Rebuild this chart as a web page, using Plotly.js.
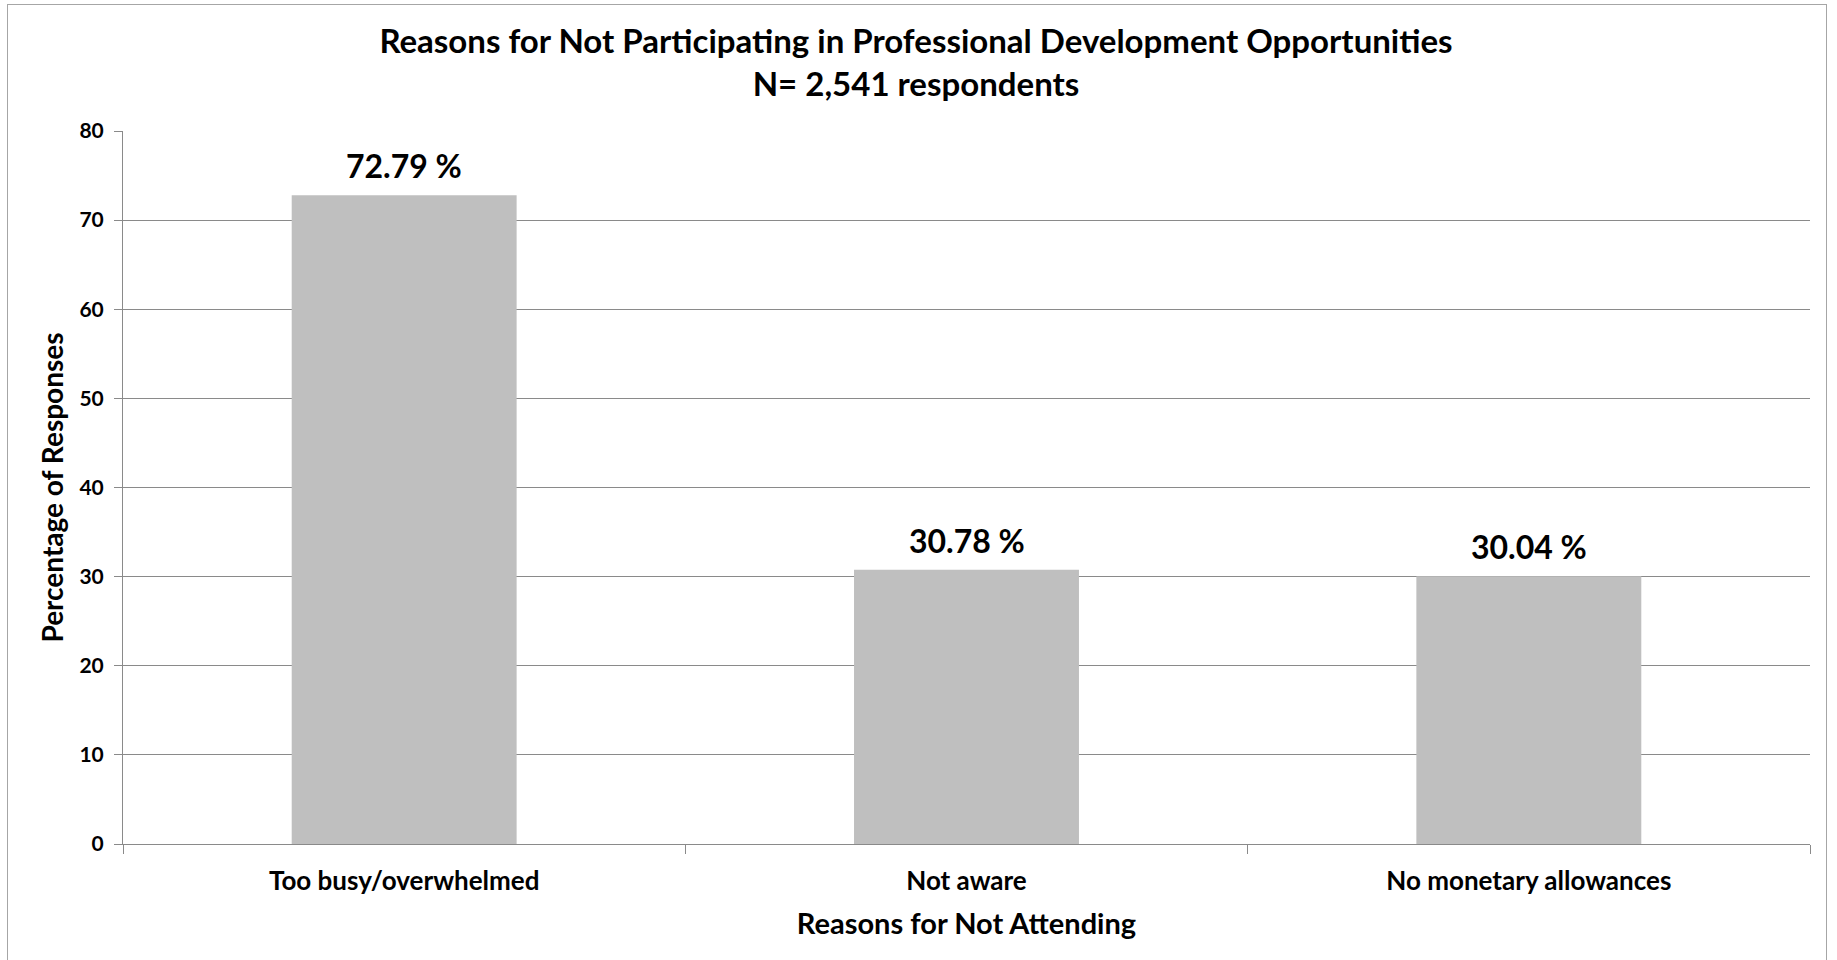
<!DOCTYPE html>
<html>
<head>
<meta charset="utf-8">
<script src="https://cdn.plot.ly/plotly-3.0.1.min.js"></script>
<style>
  html, body { margin: 0; padding: 0; background: #ffffff; }
  #chart { position: absolute; left: 0; top: 0; width: 1837px; height: 960px; }
  #frame {
    position: absolute; left: 7px; top: 4px; width: 1818px; height: 1000px;
    border: 1.5px solid #a6a6a6; border-bottom: none; pointer-events: none;
  }
</style>
</head>
<body>
<div id="chart"></div>
<div id="frame"></div>
<script>
// Survey results: reasons for not attending professional development
const reasons = ["Too busy/overwhelmed", "Not aware", "No monetary allowances"];
const percentages = [72.79, 30.78, 30.04];
const yTicks = [0, 10, 20, 30, 40, 50, 60, 70, 80];

const FONT = "Lato, 'Open Sans', 'DejaVu Sans', sans-serif";
const GRID = "#8a8a8a";

const trace = {
  type: "bar",
  x: reasons,
  y: percentages,
  marker: { color: "#bfbfbf", line: { width: 0 } },
  hoverinfo: "skip"
};

// value labels sit just above each bar
const valueLabels = reasons.map((r, i) => ({
  x: r,
  y: percentages[i],
  xref: "x",
  yref: "y",
  text: "<b>" + percentages[i].toFixed(2) + " %</b>",
  showarrow: false,
  xanchor: "center",
  yanchor: "bottom",
  yshift: 8,
  font: { family: FONT, size: 32, color: "#000000" }
}));

const layout = {
  width: 1837,
  height: 960,
  margin: { l: 123, r: 27, t: 131, b: 116, pad: 0 },
  paper_bgcolor: "rgba(0,0,0,0)",
  plot_bgcolor: "#ffffff",
  showlegend: false,
  bargap: 0.6,
  font: { family: FONT, color: "#000000" },
  annotations: valueLabels,
  title: {
    text: "<b>Reasons for Not Participating in Professional Development Opportunities</b><br><b>N= 2,541 respondents</b>",
    font: { family: FONT, size: 33, color: "#000000" },
    x: 916 / 1837,
    xanchor: "center",
    xref: "container",
    y: 1 - 53 / 960,
    yref: "container",
    yanchor: "top"
  },
  xaxis: {
    type: "category",
    showline: true,
    linecolor: GRID,
    linewidth: 1,
    ticks: "outside",
    tickson: "boundaries",
    ticklen: 9,
    tickcolor: GRID,
    tickwidth: 1,
    showgrid: false,
    ticklabelstandoff: 14,
    tickfont: { family: FONT, size: 26, color: "#000000", weight: 700 },
    automargin: false,
    title: {
      text: "<b>Reasons for Not Attending</b>",
      font: { family: FONT, size: 29, color: "#000000" },
      standoff: 18
    }
  },
  yaxis: {
    range: [0, 80],
    tickvals: yTicks,
    ticktext: yTicks.map(String),
    showline: true,
    linecolor: GRID,
    linewidth: 1,
    ticks: "outside",
    ticklen: 8,
    tickcolor: GRID,
    tickwidth: 1,
    showgrid: true,
    gridcolor: GRID,
    gridwidth: 1,
    zeroline: false,
    ticklabelstandoff: 6,
    tickfont: { family: FONT, size: 21, color: "#000000", weight: 700 },
    automargin: false,
    title: {
      text: "<b>Percentage of Responses</b>",
      font: { family: FONT, size: 28, color: "#000000" },
      standoff: 7
    }
  }
};

Plotly.newPlot("chart", [trace], layout, { displayModeBar: false, staticPlot: true });
</script>
</body>
</html>
